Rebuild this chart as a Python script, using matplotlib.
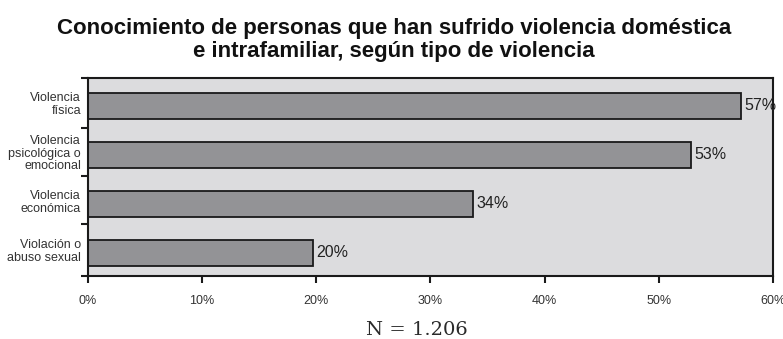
import matplotlib.pyplot as plt
from matplotlib.ticker import FixedLocator, NullFormatter

# Survey results: share of respondents who know a victim, by type of violence
categories = [
    "Violencia\nfísica",
    "Violencia\npsicológica o\nemocional",
    "Violencia\neconómica",
    "Violación o\nabuso sexual",
]
percentages = [57.2, 52.8, 33.7, 19.7]
x_ticks = [0, 10, 20, 30, 40, 50, 60]
x_tick_labels = ["0%", "10%", "20%", "30%", "40%", "50%", "60%"]


def main():
    plt.rcParams['font.family'] = ['Liberation Sans', 'DejaVu Sans']
    fig = plt.figure(figsize=(7.83, 3.39), dpi=100)
    ax = fig.add_axes([0.1124, 0.186, 0.8748, 0.584])
    ax.set_facecolor('#dcdcde')

    y_pos = list(range(len(categories)))
    ax.barh(y_pos, percentages, height=0.53, color='#939396',
            edgecolor='#1a1a1a', linewidth=1.3, zorder=2)

    for y, v in zip(y_pos, percentages):
        ax.text(v + 0.3, y, f"{v:.0f}%", va='center', ha='left',
                fontsize=11.5, color='#222222', zorder=3)

    ax.set_xlim(0, 60)
    ax.set_ylim(3.47, -0.57)
    ax.set_xticks(x_ticks)
    ax.set_xticklabels(x_tick_labels, fontsize=9, color='#333333')

    ax.set_yticks([y - 0.06 for y in y_pos])
    ax.set_yticklabels(categories, fontsize=9, color='#333333',
                       linespacing=1.05)
    ax.tick_params(axis='y', which='major', length=0, pad=5)
    # tick marks between the categories, not at the labels
    ax.yaxis.set_minor_locator(FixedLocator([-0.57, 0.45, 1.43, 2.4, 3.47]))
    ax.yaxis.set_minor_formatter(NullFormatter())
    ax.tick_params(axis='y', which='minor', length=5, width=1.5,
                   color='#1a1a1a')
    ax.tick_params(axis='x', length=5, width=1.5, color='#1a1a1a', pad=9)

    for side in ['left', 'right', 'top', 'bottom']:
        ax.spines[side].set_linewidth(1.5)
        ax.spines[side].set_color('#1a1a1a')

    fig.text(0.503, 0.883, "Conocimiento de personas que han sufrido violencia doméstica\n"
             "e intrafamiliar, según tipo de violencia",
             ha='center', va='center', fontsize=16, fontweight='bold',
             color='#111111', linespacing=1.12)
    fig.text(0.532, 0.028, "N = 1.206", ha='center', va='center',
             fontsize=14, family='DejaVu Serif', color='#2a2a2a')

    fig.savefig("out.png", dpi=100, facecolor='white')
    plt.close(fig)


if __name__ == "__main__":
    main()
